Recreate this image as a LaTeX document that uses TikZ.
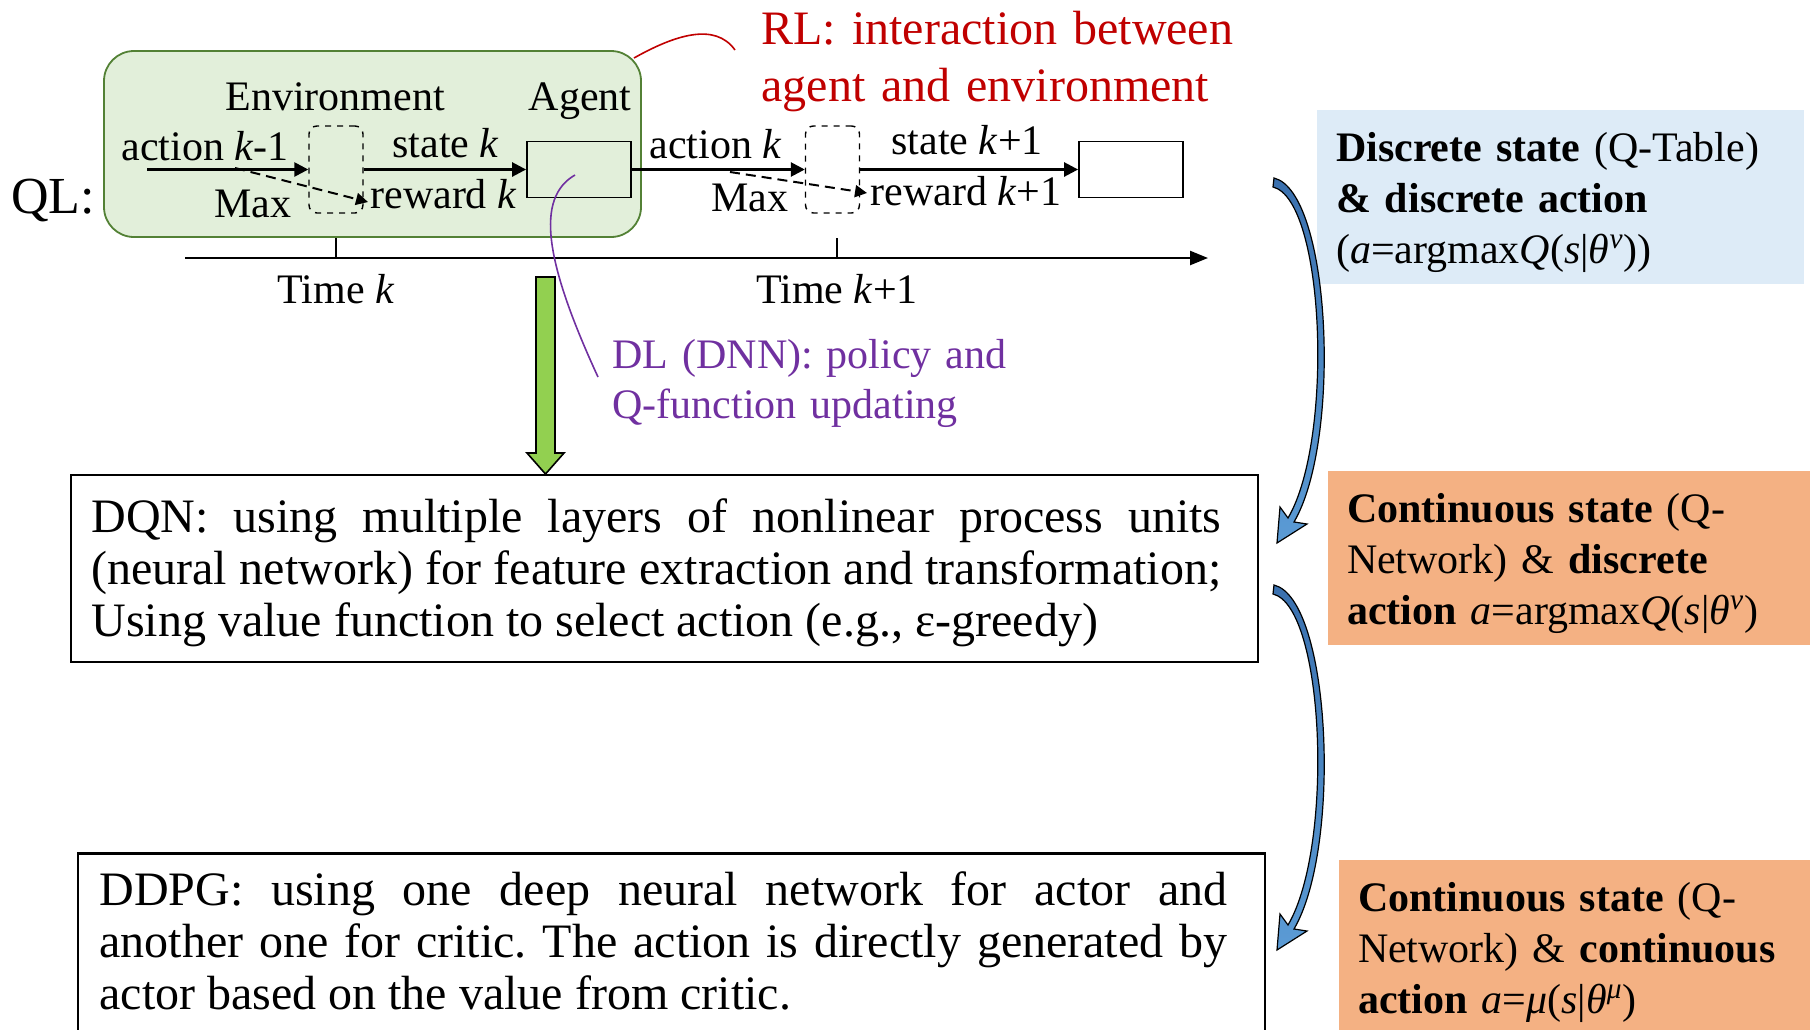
\documentclass[tikz,border=0pt]{standalone}
\usepackage{fontspec}
\setmainfont{Liberation Serif}
\usetikzlibrary{arrows.meta}
\frenchspacing

\definecolor{envgreen}{HTML}{E2EFDA}
\definecolor{envline}{HTML}{538135}
\definecolor{rlred}{HTML}{C00000}
\definecolor{dlpurple}{HTML}{7030A0}
\definecolor{arrowgreen}{HTML}{92D050}
\definecolor{tableblue}{HTML}{DDEBF7}
\definecolor{netorange}{HTML}{F4B183}
\definecolor{benddark}{HTML}{3A70AE}
\definecolor{bendlight}{HTML}{5B9BD5}

\tikzset{
  lbl/.style={inner sep=0pt, anchor=base west, font=\fontsize{21}{24}\selectfont},
  flow/.style={line width=1.3pt, -{Triangle[length=7pt,width=7pt]}},
  maxflow/.style={line width=1pt, dash pattern=on 5pt off 3pt, -{Triangle[length=6pt,width=6pt]}},
  slot/.style={draw, dashed, rounded corners=4pt, line width=0.7pt, minimum width=27pt, minimum height=43.5pt},
  unit/.style={draw, line width=0.9pt, minimum width=52pt, minimum height=28pt},
  textbox/.style={draw, line width=1.1pt, minimum width=593.5pt, minimum height=93.5pt},
  bodytext/.style={inner sep=0pt, anchor=base west, align=justify, font=\fontsize{24}{26}\selectfont},
  infobox/.style={align=left, inner xsep=9.5pt, text height=20pt, font=\fontsize{21}{25.5}\selectfont},
  bendarrow/.style={draw=black, line width=0.6pt, top color=benddark, bottom color=bendlight},
}

\begin{document}
\begin{tikzpicture}[x=0.5pt, y=-0.5pt]
  \useasboundingbox (0,0) rectangle (1810,1029);

  % QL: agent and environment
  \node[draw=envline, fill=envgreen, line width=0.9pt, rounded corners=15pt,
        minimum width=268.5pt, minimum height=93pt] (rl) at (372.5,144) {};
  \node[lbl, font=\fontsize{26}{30}\selectfont] (ql) at (11,213) {QL:};
  \node[lbl, anchor=base] (envtxt) at (335,110) {Environment};
  \node[lbl, anchor=base] (agenttxt) at (580,110) {Agent};
  \node[slot] (slot1) at (336,169.5) {};
  \node[slot] (slot2) at (832.5,169.5) {};
  \node[unit] (agent) at (579,169.5) {};
  \node[unit] (next) at (1131,169.5) {};

  \coordinate (start) at (147,169.5);
  \draw[flow] (start) -- (slot1);
  \draw[flow] (slot1) -- (agent);
  \draw[flow] (agent) -- (slot2);
  \draw[flow] (slot2) -- (next);
  \coordinate (max1) at (235,168);
  \coordinate (rew1) at (368,202);
  \coordinate (max2) at (730,172);
  \coordinate (rew2) at (867,193);
  \draw[maxflow] (max1) -- (rew1);
  \draw[maxflow] (max2) -- (rew2);

  \node[lbl] (act1) at (121,160) {action \textit{k}-1};
  \node[lbl] (max1txt) at (214,217) {Max};
  \node[lbl] (st1) at (392,157) {state \textit{k}};
  \node[lbl] (rw1) at (370,208) {reward \textit{k}};
  \node[lbl] (act2) at (649,158) {action \textit{k}};
  \node[lbl] (max2txt) at (711,211) {Max};
  \node[lbl] (st2) at (891,154) {state \textit{k}+1};
  \node[lbl] (rw2) at (870,205) {reward \textit{k}+1};

  % time axis
  \coordinate (t0) at (185,258);
  \coordinate (t1) at (1208,258);
  \draw[line width=1.2pt, -{Triangle[length=9pt,width=7pt]}] (t0) -- (t1);
  \foreach \x/\name/\lab in {336/tk/Time \textit{k}, 837/tkk/Time \textit{k}+1} {
    \draw[line width=0.6pt] (\x,238) -- (\x,258);
    \node[lbl, anchor=base] (\name) at (\x,303) {\lab};
  }

  % callouts
  \node[lbl, text=rlred, font=\fontsize{24}{28.5}\selectfont, align=left, text width=260pt] (rltxt) at (761,44)
    {RL: interaction between\\agent and environment};
  \coordinate (rlend) at (735,50);
  \draw[rlred, line width=0.8pt] (634,58) .. controls (675,35) and (715,22) .. (rlend);
  \node[lbl, text=dlpurple, font=\fontsize{21}{25}\selectfont, align=left, text width=200pt] (dltxt) at (612,368)
    {DL (DNN): policy and\\Q-function updating};
  \coordinate (dlend) at (598,377);
  \draw[dlpurple, line width=0.8pt] (575,175) .. controls (535,198) and (545,262) .. (dlend);

  % QL -> DQN
  \draw[fill=arrowgreen, line width=0.8pt] (536,277) -- (555,277) -- (555,453) -- (564,453)
    -- (545.5,474) -- (527,453) -- (536,453) -- cycle;

  \node[textbox] (dqn) at (664.5,568.5) {};
  \node[bodytext, text width=565pt] (dqntxt) at (91,532)
    {DQN: using multiple layers of nonlinear process units\linebreak
     (neural network) for feature extraction and transformation;\linebreak
     Using value function to select action (e.g., ε-greedy)};
  \node[textbox] (ddpg) at (671.5,947) {};
  \node[bodytext, text width=564pt] (ddpgtxt) at (99,905)
    {DDPG: using one deep neural network for actor and\linebreak
     another one for critic. The action is directly generated by\linebreak
     actor based on the value from critic.};

  % state / action types
  \node[infobox, fill=tableblue, minimum width=243.5pt, minimum height=87pt, text width=224.5pt] (qtable) at (1560.5,197)
    {\textbf{Discrete state} (Q-Table)\\
     \textbf{\& discrete action}\\
     (\textit{a}=argmax\textit{Q}(\textit{s}|\textit{θ}\textsuperscript{\textit{v}}))};
  \node[infobox, fill=netorange, minimum width=241pt, minimum height=87pt, text width=222pt] (qnet) at (1569,558)
    {\textbf{Continuous state} (Q-\\
     Network) \& \textbf{discrete}\\
     \textbf{action} \textit{a}=argmax\textit{Q}(\textit{s}|\textit{θ}\textsuperscript{\textit{v}})};
  \node[infobox, fill=netorange, minimum width=235.5pt, minimum height=87pt, text width=216.5pt] (actor) at (1574.5,947)
    {\textbf{Continuous state} (Q-\\
     Network) \& \textbf{continuous}\\
     \textbf{action} \textit{a}=\textit{μ}(\textit{s}|\textit{θ}\textsuperscript{\textit{μ}})};

  \foreach \dy in {0,407} {
    \draw[bendarrow, shift={(3,\dy)}] (1271,178) .. controls (1328,192) and (1339,440) .. (1291,522)
      -- (1304,524) -- (1274,543) -- (1277,507) -- (1285,518)
      .. controls (1331,440) and (1322,200) .. (1270,187) -- cycle;
  }
\end{tikzpicture}
\end{document}
